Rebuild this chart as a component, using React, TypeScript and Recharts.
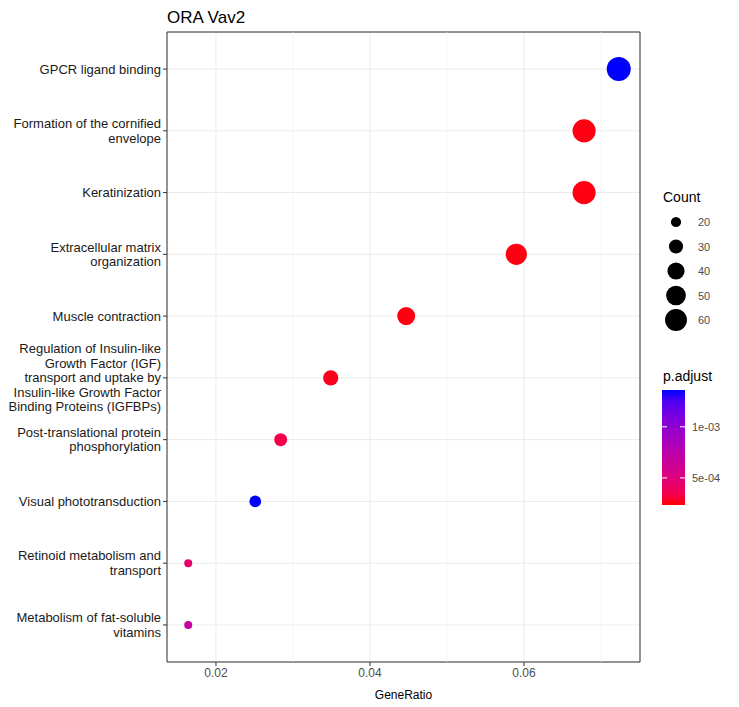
import React from "react";
import { ScatterChart, Scatter, XAxis, YAxis, CartesianGrid, ReferenceLine, ReferenceArea } from "recharts";

const categories = [
  "GPCR ligand binding",
  "Formation of the cornified\nenvelope",
  "Keratinization",
  "Extracellular matrix\norganization",
  "Muscle contraction",
  "Regulation of Insulin-like\nGrowth Factor (IGF)\ntransport and uptake by\nInsulin-like Growth Factor\nBinding Proteins (IGFBPs)",
  "Post-translational protein\nphosphorylation",
  "Visual phototransduction",
  "Retinoid metabolism and\ntransport",
  "Metabolism of fat-soluble\nvitamins",
];
const geneRatio = [0.0723, 0.0678, 0.0678, 0.059, 0.0447, 0.0349, 0.0284, 0.0251, 0.0164, 0.0164];
const counts = [64, 60, 60, 52, 40, 31, 25, 22, 15, 15];
const pAdjust = [1.36e-3, 2.4e-4, 2.4e-4, 2.4e-4, 2.4e-4, 2.5e-4, 3.3e-4, 1.36e-3, 4.3e-4, 6.8e-4];
const countLegend = [20, 30, 40, 50, 60];
const pTicks = [1e-3, 5e-4];
const xTicks = [0.02, 0.04, 0.06];
const xMinor = [0.03, 0.05, 0.07];

const P_MIN = 2.35e-4, P_MAX = 1.36e-3;
const X_MIN = 0.01364, X_MAX = 0.07506;

function colorFor(p: number) {
  const t = Math.max(0, Math.min(1, (p - P_MIN) / (P_MAX - P_MIN)));
  const r = Math.round(255 * Math.sqrt(1 - t)), b = Math.round(255 * Math.sqrt(t));
  return `rgb(${r},0,${b})`;
}
function radiusFor(c: number) {
  const rmin = 4, rmax = 12;
  return Math.sqrt(rmin * rmin + ((c - 15) / (64 - 15)) * (rmax * rmax - rmin * rmin));
}

const data = categories.map((c, i) => ({ x: geneRatio[i], y: i, count: counts[i], p: pAdjust[i] }));

const Dot = (props: any) => {
  const { cx, cy, payload } = props;
  return <circle cx={cx} cy={cy} r={radiusFor(payload.count)} fill={colorFor(payload.p)} />;
};

const YTick = (props: any) => {
  const { x, y, payload } = props;
  const lines = categories[payload.value].split("\n");
  const lh = 14.5;
  const start = -((lines.length - 1) * lh) / 2;
  return (
    <text x={x} y={y} textAnchor="end" fontSize={13} fill="#1a1a1a" fontFamily="Liberation Sans, Arial">
      {lines.map((l, i) => (
        <tspan key={i} x={x} dy={i === 0 ? start + 4.5 : lh}>{l}</tspan>
      ))}
    </text>
  );
};

export default function App() {
  const barTop = 382, barBot = 497;
  const pToY = (p: number) => barBot - ((p - P_MIN) / (P_MAX - P_MIN)) * (barBot - barTop);
  return (
    <div style={{ position: "relative", width: 731, height: 699, fontFamily: "Liberation Sans, Arial" }}>
      <div style={{ position: "absolute", left: 159, top: 0, fontSize: 17, color: "#000" }}>ORA Vav2</div>
      <ScatterChart width={731} height={699} margin={{ top: 24, right: 99, bottom: 0, left: 0 }}>
        <CartesianGrid stroke="#EBEBEB" />
        {xMinor.map((v) => (
          <ReferenceLine key={v} x={v} stroke="#F2F2F2" strokeWidth={0.6} />
        ))}
        <XAxis
          type="number"
          dataKey="x"
          domain={[X_MIN, X_MAX]}
          ticks={xTicks}
          allowDataOverflow
          height={45}
          tick={{ fontSize: 12, fill: "#4D4D4D" }}
          tickFormatter={(v: number) => v.toFixed(2)}
          axisLine={false}
          tickLine={{ stroke: "#333" }}
          tickSize={4}
          label={{ value: "GeneRatio", position: "insideBottom", offset: 8, fontSize: 12, fill: "#000" }}
        />
        <YAxis
          type="number"
          dataKey="y"
          domain={[-0.6, 9.6]}
          reversed
          ticks={categories.map((_, i) => i)}
          interval={0}
          width={159}
          tick={<YTick />}
          axisLine={false}
          tickLine={{ stroke: "#333" }}
          tickSize={4}
        />
        <ReferenceArea x1={X_MIN} x2={X_MAX} y1={-0.6} y2={9.6} fill="none" stroke="#333" strokeWidth={1} ifOverflow="visible" />
        <Scatter data={data} shape={<Dot />} isAnimationActive={false} />
      </ScatterChart>
      <svg style={{ position: "absolute", left: 0, top: 0 }} width={731} height={699}>
        <defs>
          <linearGradient id="pg" x1="0" y1="1" x2="0" y2="0">
            {[0, 0.1, 0.25, 0.5, 0.75, 0.9, 1].map((t) => (
              <stop key={t} offset={t} stopColor={colorFor(P_MIN + t * (P_MAX - P_MIN))} />
            ))}
          </linearGradient>
        </defs>
        <text x={655} y={194} fontSize={14} fill="#000">Count</text>
        {countLegend.map((c, i) => (
          <g key={c}>
            <circle cx={668} cy={214 + i * 24.5} r={radiusFor(c) * 0.95} fill="#000" />
            <text x={690} y={218 + i * 24.5} fontSize={11} fill="#4D4D4D">{c}</text>
          </g>
        ))}
        <text x={655} y={373} fontSize={14} fill="#000">p.adjust</text>
        <rect x={654} y={barTop} width={23} height={barBot - barTop} fill="url(#pg)" />
        {pTicks.map((p) => (
          <g key={p}>
            <line x1={654} x2={659} y1={pToY(p)} y2={pToY(p)} stroke="#fff" />
            <line x1={672} x2={677} y1={pToY(p)} y2={pToY(p)} stroke="#fff" />
            <text x={684} y={pToY(p) + 4} fontSize={11} fill="#4D4D4D">{p.toExponential(0).replace("e-", "e-0")}</text>
          </g>
        ))}
      </svg>
    </div>
  );
}
